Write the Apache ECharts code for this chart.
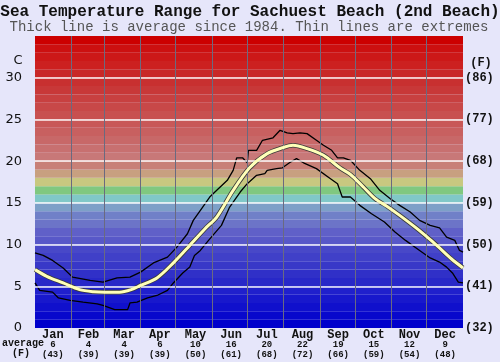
<!DOCTYPE html>
<html>
<head>
<meta charset="utf-8">
<script src="https://cdn.jsdelivr.net/npm/echarts@6/dist/echarts.min.js"></script>
<style>
html,body{margin:0;padding:0;background:#e6e6fa;}
#chart{width:500px;height:362px;}
</style>
</head>
<body>
<div id="chart"></div>
<script>
// ---- data ----
const months = ['Jan','Feb','Mar','Apr','May','Jun','Jul','Aug','Sep','Oct','Nov','Dec'];
const monthAvgC = [6,4,4,6,10,16,20,22,19,15,12,9];
const monthAvgF = [43,39,39,39,50,61,68,72,66,59,54,48];
const monthStartDays = [31,59,90,120,151,181,212,243,273,304,334];
const celsiusTicks = [0,5,10,15,20,25,30];
const fahrenheitLabels = ['(32)','(41)','(50)','(59)','(68)','(77)','(86)'];

const avgDays = [0,10,24,38,50,60,72,82,90,104,118,132,145,155,169,183,198,211,220,232,246,260,269,280,290,300,311,325,337,345,355,365];
const avgTemps = [7.0,6.2,5.4,4.6,4.35,4.3,4.3,4.6,5.1,6.0,7.8,9.9,11.9,13.3,16.5,19.2,20.9,21.6,21.9,21.5,20.7,19.2,18.4,16.9,15.5,14.6,13.5,12.0,10.6,9.6,8.3,7.2];

const maxDays = [0,7,15,24,32,47,58,70,81,90,101,113,121,130,135,143,149,155,164,169,172,177,181,182,189,194,203,209,215,220,226,232,240,246,253,258,263,269,277,286,294,303,311,320,328,337,345,351,358,362,365];
const maxTemps = [9.0,8.7,8.1,7.2,6.1,5.7,5.5,6.0,6.1,6.7,7.8,8.5,9.7,11.3,12.9,14.5,15.7,16.5,17.7,18.9,20.4,20.4,19.8,21.3,21.3,22.5,22.8,23.7,23.4,23.3,23.4,23.3,22.5,21.9,21.3,20.4,20.4,20.1,18.9,17.9,16.5,15.5,14.7,13.9,12.9,12.3,12.0,10.9,10.5,9.3,9.1];

const minDays = [0,4,15,20,30,41,53,58,68,79,81,87,96,104,113,118,126,132,136,141,148,159,166,175,181,189,196,198,206,211,217,223,229,240,252,258,262,269,277,287,298,307,316,328,337,345,351,356,361,365];
const minTemps = [5.4,4.5,4.3,3.6,3.3,3.1,2.9,2.7,2.2,2.2,3.0,3.1,3.6,3.9,4.5,5.4,6.6,7.3,8.7,9.3,10.5,12.3,14.5,16.3,17.3,18.3,18.5,18.9,19.1,19.2,19.8,20.3,19.8,19.1,17.9,17.3,15.7,15.7,14.7,13.7,12.7,11.5,10.5,9.3,8.4,7.9,7.3,6.6,5.5,5.4];

// band colours, one per degree C from 0-1 up to 34-35
const bandColors = [
 '#0000cc','#0808cc','#1010cc','#1818cc','#2020cc','#2828c8','#3030c8','#3838c8','#4040c8','#4848c8',
 '#5858c8','#6060c8','#6c74c8','#7080c8','#7da0c8','#80c8c8','#80c880','#c8c880','#c8a080','#c88078',
 '#c87878','#c87070','#c86868','#c86060','#c85858','#c85050','#c84848','#c84040','#c83838','#c83030',
 '#c82828','#cc2020','#cc1818','#cc1010','#cc0000'
];

const pairs = (xs, ys) => xs.map((x, i) => [x, ys[i]]);
const MONO = '"Liberation Mono", "DejaVu Sans Mono", monospace';

const chart = echarts.init(document.getElementById('chart'), null, {renderer:'canvas'});
chart.setOption({
  animation: false,
  backgroundColor: '#e6e6fa',
  grid: {left: 35, right: 37, top: 36, bottom: 34, containLabel: false},
  xAxis: [
    {type: 'value', min: 0, max: 365, show: false},
    {type: 'category', data: months, position: 'bottom', boundaryGap: true,
     axisLine: {show: false}, axisTick: {show: false}, splitLine: {show: false},
     axisLabel: {
       margin: 1, interval: 0,
       formatter: (v, i) => '{m|' + v + '}\n{c|' + monthAvgC[i] + '}\n{f|(' + monthAvgF[i] + ')}',
       rich: {
         m: {fontFamily: MONO, fontSize: 12, fontWeight: 'bold', color: '#111', lineHeight: 11, align: 'center'},
         c: {fontFamily: MONO, fontSize: 9, fontWeight: 'bold', color: '#111', lineHeight: 10, align: 'center'},
         f: {fontFamily: MONO, fontSize: 9, fontWeight: 'bold', color: '#111', lineHeight: 9, align: 'center'}
       }
     }}
  ],
  yAxis: [
    {type: 'value', min: 0, max: 35, interval: 5, position: 'left',
     axisLine: {show: false}, axisTick: {show: false}, splitLine: {show: false},
     axisLabel: {margin: 13, fontFamily: '"DejaVu Sans", sans-serif', fontSize: 13, color: '#111',
       formatter: v => celsiusTicks.indexOf(v) >= 0 ? String(v) : ''}},
    {type: 'value', min: 0, max: 35, interval: 5, position: 'right',
     axisLine: {show: false}, axisTick: {show: false}, splitLine: {show: false},
     axisLabel: {margin: 2, fontFamily: MONO, fontSize: 12, fontWeight: 'bold', color: '#111',
       formatter: v => { const i = celsiusTicks.indexOf(v); return i >= 0 ? fahrenheitLabels[i] : ''; }}}
  ],
  series: [
    {type: 'line', name: 'bands', z: 1, silent: true, symbol: 'none',
     data: [[0, 0], [365, 0]], lineStyle: {opacity: 0},
     markArea: {silent: true,
       data: bandColors.map((c, i) => [{yAxis: i, itemStyle: {color: c}}, {yAxis: i + 1}])}},
    {type: 'line', name: 'grid', z: 2, silent: true, symbol: 'none',
     data: [[0, 0], [365, 0]], lineStyle: {opacity: 0},
     markLine: {silent: true, symbol: ['none', 'none'], label: {show: false},
       data: celsiusTicks.filter(v => v > 0).map(v => ({yAxis: v, lineStyle: {color: '#ffffff', width: 1.6, type: 'solid', opacity: 0.95}}))
         .concat(monthStartDays.map(d => ({xAxis: d, lineStyle: {color: '#6a6a80', width: 1, type: 'solid'}})))}},
    {type: 'line', name: 'max', z: 3, symbol: 'none', data: pairs(maxDays, maxTemps),
     lineStyle: {color: '#000', width: 1.3}},
    {type: 'line', name: 'min', z: 3, symbol: 'none', data: pairs(minDays, minTemps),
     lineStyle: {color: '#000', width: 1.3}},
    {type: 'line', name: 'avgOutline', z: 4, symbol: 'none', smooth: 0.3, data: pairs(avgDays, avgTemps),
     lineStyle: {color: '#3a3a3a', width: 4.6}},
    {type: 'line', name: 'avg', z: 5, symbol: 'none', smooth: 0.3, data: pairs(avgDays, avgTemps),
     lineStyle: {color: '#ffffb8', width: 3}}
  ],
  graphic: [
    {type: 'text', z: 10, style: {text: 'Sea Temperature Range for Sachuest Beach (2nd Beach)', x: 250, y: 12,
      textAlign: 'center', textVerticalAlign: 'middle', font: 'bold 16px ' + MONO, fill: '#111'}},
    {type: 'text', z: 10, style: {text: 'Thick line is average since 1984. Thin lines are extremes', x: 249, y: 27,
      textAlign: 'center', textVerticalAlign: 'middle', font: '14px ' + MONO, fill: '#555'}},
    {type: 'text', z: 10, style: {text: 'C', x: 18, y: 61, textAlign: 'center', textVerticalAlign: 'middle',
      font: '13px "DejaVu Sans", sans-serif', fill: '#111'}},
    {type: 'text', z: 10, style: {text: '(F)', x: 481, y: 63, textAlign: 'center', textVerticalAlign: 'middle',
      font: 'bold 12px ' + MONO, fill: '#111'}},
    {type: 'text', z: 10, style: {text: 'average', x: 2, y: 343, textAlign: 'left', textVerticalAlign: 'middle',
      font: 'bold 10px ' + MONO, fill: '#111'}},
    {type: 'text', z: 10, style: {text: '(F)', x: 21, y: 353, textAlign: 'center', textVerticalAlign: 'middle',
      font: 'bold 10px ' + MONO, fill: '#111'}}
  ]
});
</script>
</body>
</html>
